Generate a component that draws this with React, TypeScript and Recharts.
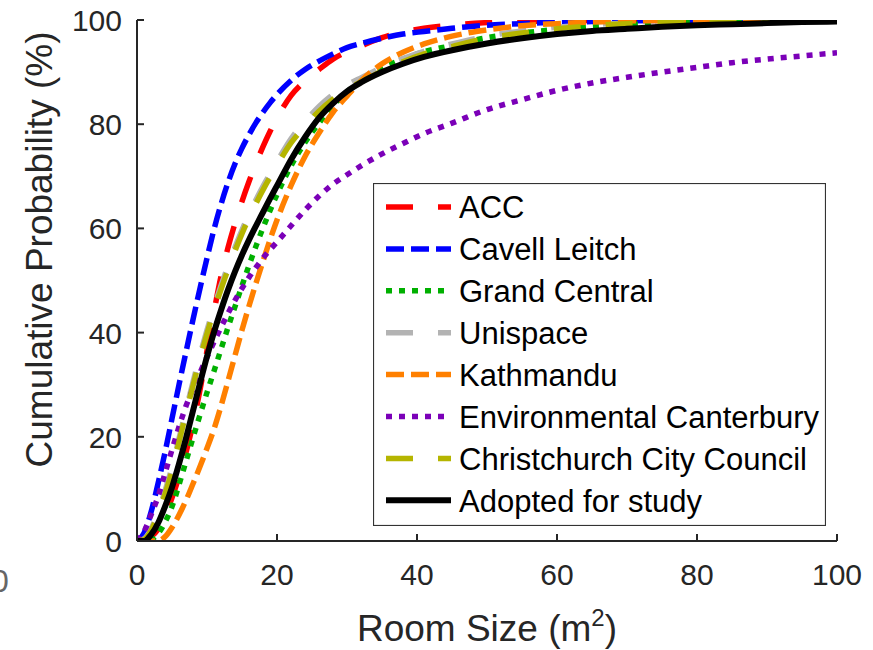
import { LineChart, Line, XAxis, YAxis, Legend } from 'recharts';

const roomSize = [0, 1, 2, 3, 4, 5, 6, 7, 8, 9, 10, 11, 12, 13, 14, 15, 16, 17, 18, 19, 20, 22, 24, 26, 28, 30, 32, 35, 38, 41, 45, 50, 55, 60, 65, 70, 75, 80, 85, 90, 95, 100];

const acc = [0, 0, 0.8, 2.2, 4.8, 8.3, 12.3, 17, 22.5, 29, 36.5, 44, 50.8, 56.3, 61, 65.2, 69, 72.5, 75.7, 78.6, 81.2, 85.5, 88.3, 90.5, 92.5, 93.9, 95, 96.6, 97.7, 98.4, 99, 99.5, 99.7, 99.8, 99.9, 100, 100, 100, 100, 100, 100, 100];
const cavellLeitch = [0, 1.5, 5.5, 11, 17, 23.5, 30, 36.3, 42.5, 48.5, 54.3, 59.8, 64.6, 68.8, 72.4, 75.4, 78, 80.3, 82.3, 84.1, 85.7, 88.4, 90.5, 92.1, 93.5, 94.7, 95.5, 96.5, 97.3, 97.8, 98.4, 99, 99.3, 99.6, 99.7, 99.8, 99.9, 99.9, 100, 100, 100, 100];
const grandCentral = [0, 0, 0.3, 1.4, 3.6, 6.6, 10.8, 15.3, 19.8, 24.2, 28.5, 32.6, 36.8, 41, 45, 49, 52.9, 56.6, 60.1, 63.4, 66.5, 72, 76.5, 80.2, 83.5, 86.2, 88.3, 90.7, 92.5, 93.9, 95.1, 96.6, 97.5, 98.2, 98.7, 99.1, 99.4, 99.6, 99.7, 99.8, 99.9, 100];
const unispace = [0, 0.4, 2.3, 5.5, 9.6, 14.2, 19.7, 25.2, 30.5, 35.7, 40.5, 44.9, 49, 52.8, 56.4, 59.7, 62.7, 65.5, 68.1, 70.5, 72.8, 77.2, 80.5, 83.4, 85.7, 87.5, 88.9, 90.9, 92.6, 94, 95.4, 96.9, 97.9, 98.6, 99.1, 99.4, 99.6, 99.8, 99.9, 100, 100, 100];
const kathmandu = [0, 0, 0, 0, 0.8, 2.6, 5, 7.8, 11, 14.3, 17.8, 21.5, 25.9, 30.7, 35.6, 40.5, 45.1, 49.5, 53.7, 57.8, 61.6, 68.2, 73.8, 78.3, 82.3, 85.4, 88.3, 91.6, 93.8, 95.4, 96.9, 98.1, 98.9, 99.3, 99.6, 99.8, 99.9, 100, 100, 100, 100, 100];
const envCanterbury = [0, 1.8, 5, 8.5, 13, 17.5, 21.9, 25.9, 29.2, 32.3, 35.3, 38.2, 41, 43.7, 46.2, 48.5, 50.6, 52.5, 54.3, 55.9, 57.4, 60.5, 63.5, 66.2, 68.5, 70.3, 72, 74.3, 76.3, 78.2, 80.2, 82.8, 84.7, 86.5, 87.9, 89, 90, 90.9, 91.8, 92.5, 93.1, 93.7];
const cityCouncil = [0, 0.3, 2, 5, 9, 13.5, 19, 24.5, 29.8, 35, 39.8, 44.2, 48.3, 52.1, 55.7, 59, 62, 64.8, 67.4, 69.8, 72.1, 76.4, 79.6, 82.5, 84.8, 86.7, 88.1, 90.2, 92, 93.5, 94.9, 96.5, 97.5, 98.3, 98.9, 99.3, 99.5, 99.7, 99.8, 99.9, 100, 100];
const adopted = [0, 0, 1.2, 3.4, 6.6, 10.3, 14.8, 19.7, 25, 30.3, 35.4, 40.1, 44.3, 48.2, 51.7, 54.9, 57.8, 60.5, 63.1, 65.7, 68.2, 73.2, 77.5, 81.2, 84, 86.3, 88, 90, 91.6, 92.9, 94.2, 95.5, 96.5, 97.3, 97.9, 98.3, 98.7, 99, 99.2, 99.4, 99.6, 99.7];

const xTicks = [0, 20, 40, 60, 80, 100];
const yTicks = [0, 20, 40, 60, 80, 100];

const series = [
  { key: 'acc', name: 'ACC', color: '#ff0000', dash: '27 25', values: acc },
  { key: 'cavell', name: 'Cavell Leitch', color: '#0000ff', dash: '18 7', values: cavellLeitch },
  { key: 'grand', name: 'Grand Central', color: '#00b000', dash: '6 7', values: grandCentral },
  { key: 'unispace', name: 'Unispace', color: '#b3b3b3', dash: '27 25', values: unispace },
  { key: 'kathmandu', name: 'Kathmandu', color: '#ff8000', dash: '18 7', values: kathmandu },
  { key: 'ecan', name: 'Environmental Canterbury', color: '#7b00b8', dash: '6 7', values: envCanterbury },
  { key: 'ccc', name: 'Christchurch City Council', color: '#b5b500', dash: '27 25', values: cityCouncil },
  { key: 'adopted', name: 'Adopted for study', color: '#000000', dash: undefined, values: adopted },
];

const data = roomSize.map((x, i) => {
  const row: Record<string, number> = { x };
  series.forEach((s) => { row[s.key] = s.values[i]; });
  return row;
});

const FONT = '"Liberation Sans", Arial, Helvetica, sans-serif';
const AXIS = '#262626';

const BottomTick = ({ x, y, payload }: any) => (
  <g>
    <line x1={x} y1={y} x2={x} y2={y - 7} stroke={AXIS} strokeWidth={2} />
    <text x={x} y={y + 44} textAnchor="middle" fontSize={30} fontFamily={FONT} fill={AXIS}>
      {payload.value}
    </text>
  </g>
);

const TopTick = ({ x, y }: any) => (
  <line x1={x} y1={y} x2={x} y2={y + 7} stroke={AXIS} strokeWidth={2} />
);

const LeftTick = ({ x, y, payload }: any) => (
  <g>
    <line x1={x} y1={y} x2={x + 7} y2={y} stroke={AXIS} strokeWidth={2} />
    <text x={x - 15} y={y + 11} textAnchor="end" fontSize={30} fontFamily={FONT} fill={AXIS}>
      {payload.value}
    </text>
  </g>
);

const RightTick = ({ x, y }: any) => (
  <line x1={x} y1={y} x2={x - 7} y2={y} stroke={AXIS} strokeWidth={2} />
);

const YLabel = ({ viewBox }: any) => {
  const cx = viewBox.x + 52;
  const cy = viewBox.y + viewBox.height / 2 - 31;
  return (
    <text x={cx} y={cy} transform={`rotate(-90, ${cx}, ${cy})`} textAnchor="middle" fontSize={37} fontFamily={FONT} fill={AXIS}>
      Cumulative Probability (%)
    </text>
  );
};

const XLabel = ({ viewBox }: any) => {
  const cx = viewBox.x + viewBox.width / 2;
  const cy = viewBox.y + 100;
  return (
    <g>
      <text x={cx} y={cy} textAnchor="middle" fontSize={37} fontFamily={FONT} fill={AXIS}>
        Room Size (m<tspan fontSize={24} dy={-15}>2</tspan><tspan dy={15}>)</tspan>
      </text>
      <text x={0} y={592} textAnchor="middle" fontSize={32} fontFamily={FONT} fill="#666">0</text>
    </g>
  );
};

const LegendBox = () => (
  <svg width={453} height={343} style={{ display: 'block' }}>
    <rect x={0.5} y={0.5} width={452} height={342} fill="#fff" stroke="#333" strokeWidth={1.2} />
    {series.map((s, i) => (
      <g key={s.key}>
        <line
          x1={13}
          x2={78}
          y1={24 + i * 41.9}
          y2={24 + i * 41.9}
          stroke={s.color}
          strokeWidth={s.dash ? 5.5 : 6}
          strokeDasharray={s.dash}
        />
        <text x={86} y={35.3 + i * 41.9} fontSize={31} fontFamily={FONT} fill="#000">
          {s.name}
        </text>
      </g>
    ))}
  </svg>
);

export default function App() {
  return (
    <div style={{ position: 'fixed', left: 0, top: 0, width: 873, height: 650, background: '#fff' }}>
      <LineChart width={873} height={650} data={data} margin={{ top: 20, right: 36, bottom: 0, left: 0 }}>
        <XAxis
          dataKey="x"
          type="number"
          domain={[0, 100]}
          ticks={xTicks}
          interval={0}
          height={109}
          tickSize={0}
          tickMargin={0}
          tickLine={false}
          allowDataOverflow
          axisLine={{ stroke: AXIS, strokeWidth: 2 }}
          tick={BottomTick}
          label={<XLabel />}
        />
        <XAxis
          xAxisId="top"
          orientation="top"
          type="number"
          domain={[0, 100]}
          ticks={xTicks}
          interval={0}
          height={0}
          tickSize={0}
          tickMargin={0}
          tickLine={false}
          axisLine={{ stroke: AXIS, strokeWidth: 2 }}
          tick={TopTick}
        />
        <YAxis
          type="number"
          domain={[0, 100]}
          ticks={yTicks}
          interval={0}
          width={137}
          tickSize={0}
          tickMargin={0}
          tickLine={false}
          allowDataOverflow
          axisLine={{ stroke: AXIS, strokeWidth: 2 }}
          tick={LeftTick}
          label={<YLabel />}
        />
        <YAxis
          yAxisId="right"
          orientation="right"
          type="number"
          domain={[0, 100]}
          ticks={yTicks}
          interval={0}
          width={0}
          tickSize={0}
          tickMargin={0}
          tickLine={false}
          axisLine={{ stroke: AXIS, strokeWidth: 2 }}
          tick={RightTick}
        />
        {series.map((s) => (
          <Line
            key={s.key}
            dataKey={s.key}
            name={s.name}
            type="monotone"
            stroke={s.color}
            strokeWidth={s.dash ? 5.5 : 6}
            strokeDasharray={s.dash}
            dot={false}
            activeDot={false}
            isAnimationActive={false}
          />
        ))}
        <Legend
          layout="vertical"
          align="center"
          verticalAlign="middle"
          content={<LegendBox />}
          wrapperStyle={{ left: 373, top: 183, width: 453, height: 343 }}
        />
      </LineChart>
    </div>
  );
}
